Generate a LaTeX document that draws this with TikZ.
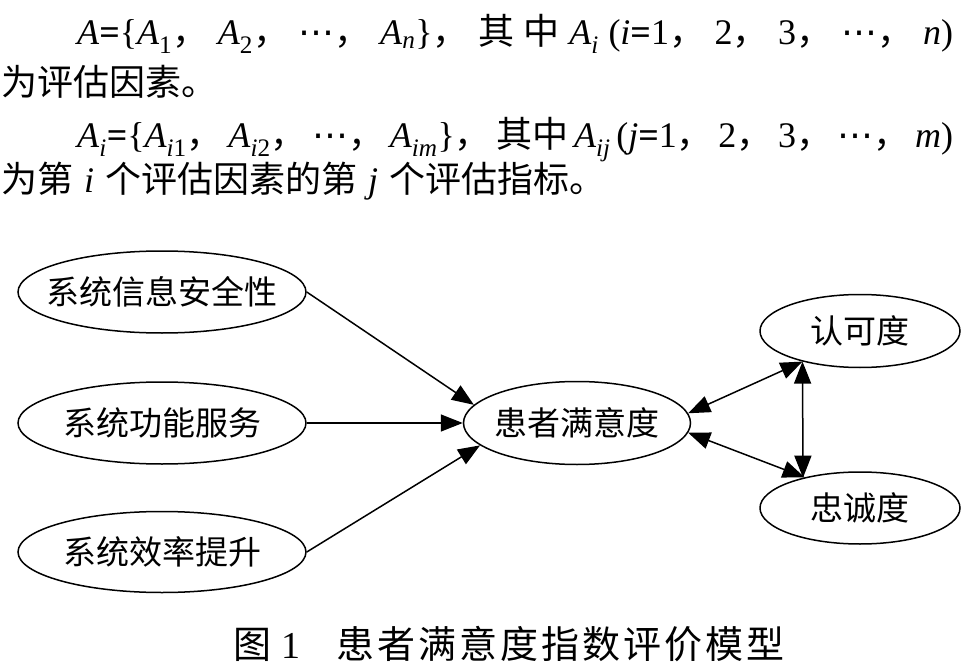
\documentclass[tikz,border=0pt]{standalone}
\usepackage{fontspec}
\setmainfont{Liberation Serif}
\newfontfamily\cjk{Noto Sans CJK SC}
\newfontfamily\dv{DejaVu Sans}
\usetikzlibrary{shapes.geometric,arrows.meta}
\newcommand\V[1]{\textit{#1}}
\newcommand\C[1]{{\cjk #1}}
\newcommand\Eq{\textbf{=}}
\newcommand\Dots{{\dv ⋯}}
\newcommand\Lbl[1]{\makebox[0pt]{#1}}
\begin{document}
\begin{tikzpicture}[x=1pt,y=-1pt,
  oval/.style={draw,line width=1.5pt,ellipse,inner sep=0pt,font=\cjk\fontsize{33}{36}\selectfont},
  tipA/.tip={Triangle[length=22pt,width=17pt]},
  arr/.style={line width=1.5pt,-tipA},
  barr/.style={line width=1.5pt,tipA-tipA},
  txt/.style={anchor=base west,inner sep=0pt,font=\fontsize{36}{40}\selectfont}]
\useasboundingbox (0,0) rectangle (967,666);
\fill[white] (0,0) rectangle (967,666);

% top text
\node[txt] (l1) at (77,45) {\hbox to 876pt{\V{A}\Eq\{\V{A}\textsubscript{1}\C{，}\hfil\V{A}\textsubscript{2}\C{，}\hfil\Dots\C{，}\hfil\V{A}\textsubscript{\V{n}}\}\C{，}\hfil\C{其}\hfil\C{中}\hfil\V{A}\textsubscript{\V{i}}\hfil(\V{i}\Eq1\C{，}\hfil2\C{，}\hfil3\C{，}\hfil\Dots\C{，}\hfil\V{n})}};
\node[txt] (l2) at (1,96) {\C{为评估因素。}};
\node[txt] (l3) at (77,148) {\hbox to 876pt{\V{A}\textsubscript{\V{i}}\Eq\{\V{A}\textsubscript{\V{i}1}\C{，}\hfil\V{A}\textsubscript{\V{i}2}\C{，}\hfil\Dots\C{，}\hfil\V{A}\textsubscript{\V{im}}\}\C{，}\hfil\C{其中}\hfil\V{A}\textsubscript{\V{ij}}\hfil(\V{j}\Eq1\C{，}\hfil2\C{，}\hfil3\C{，}\hfil\Dots\C{，}\hfil\V{m})}};
\node[txt] (l4) at (1,193) {\C{为第}\hspace{11pt}\V{i}\hspace{11pt}\C{个评估因素的第}\hspace{11pt}\V{j}\hspace{11pt}\C{个评估指标。}};

% diagram
\node[oval,minimum width=288pt,minimum height=82pt] (e1) at (162,292) {\Lbl{系统信息安全性}};
\node[oval,minimum width=288pt,minimum height=82pt] (e2) at (162,423) {\Lbl{系统功能服务}};
\node[oval,minimum width=288pt,minimum height=81pt] (e3) at (162,552) {\Lbl{系统效率提升}};
\node[oval,minimum width=227pt,minimum height=83pt] (e4) at (577,423) {\Lbl{患者满意度}};
\node[oval,minimum width=200pt,minimum height=73pt] (e5) at (860,331) {\Lbl{认可度}};
\node[oval,minimum width=200pt,minimum height=72pt] (e6) at (860,508) {\Lbl{忠诚度}};

\draw[arr] (e1.east) -- (e4.170);
\draw[arr] (e2.east) -- (e4.west);
\draw[arr] (e3.east) -- (e4.193);
\draw[barr] (e4.5) -- (e5.208);
\draw[barr] (e4.355) -- (e6.151);
\draw[barr] (e5.208) -- (e6.152.3);

% caption
\node[anchor=base west,inner sep=0pt,font=\cjk\fontsize{38}{42}\selectfont] (cap) at (233,658) {图\hspace{10pt}{\rmfamily 1}\hspace{36pt}患\hspace{3pt}者\hspace{3pt}满\hspace{3pt}意\hspace{3pt}度\hspace{3pt}指\hspace{3pt}数\hspace{3pt}评\hspace{3pt}价\hspace{3pt}模\hspace{3pt}型};
\end{tikzpicture}
\end{document}
